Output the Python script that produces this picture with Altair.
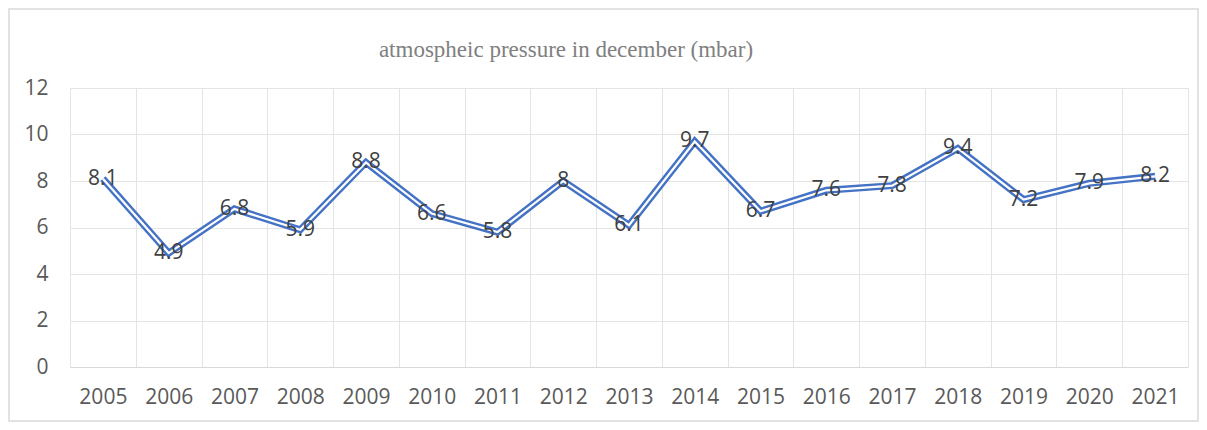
import altair as alt
import pandas as pd

years = [str(y) for y in range(2005, 2022)]
values = [8.1, 4.9, 6.8, 5.9, 8.8, 6.6, 5.8, 8, 6.1, 9.7, 6.7, 7.6, 7.8, 9.4, 7.2, 7.9, 8.2]
labels = ["8.1", "4.9", "6.8", "5.9", "8.8", "6.6", "5.8", "8", "6.1", "9.7",
          "6.7", "7.6", "7.8", "9.4", "7.2", "7.9", "8.2"]
y_ticks = [0, 2, 4, 6, 8, 10, 12]
title_text = "atmospheic pressure in december (mbar)"

df = pd.DataFrame({"year": years, "value": values, "label": labels})

FONT = "Open Sans"
W, H = 1118, 279
PL, PT, PR, PB = 62, 80, 11, 55

x = alt.X(
    "year:N", sort=years, title=None,
    scale=alt.Scale(paddingInner=0, paddingOuter=0),
    axis=alt.Axis(labelAngle=0, grid=True, tickBand="extent", gridColor="#e4e4e4",
                  domainColor="#d9d9d9", ticks=False, labelFontSize=21,
                  labelColor="#595959", labelFont=FONT, labelPadding=19),
)
y = alt.Y(
    "value:Q", title=None, scale=alt.Scale(domain=[0, 12]),
    axis=alt.Axis(values=y_ticks, domain=False, ticks=False, gridColor="#e4e4e4",
                  labelFontSize=21, labelColor="#595959", labelFont=FONT, labelPadding=22),
)

base = alt.Chart(df).encode(x=x, y=y)
outer = base.mark_line(color="#4472c4", strokeWidth=7, strokeJoin="miter")
inner = base.mark_line(color="white", strokeWidth=2.2, strokeJoin="miter")
text = base.mark_text(fontSize=21, font=FONT, color="#404040", baseline="middle",
                      align="center").encode(text="label:N")

single = alt.Chart(pd.DataFrame({"t": [title_text]}))
title = single.mark_text(font="Liberation Serif", fontSize=23, color="#808080",
                         align="center", baseline="alphabetic").encode(
    text="t:N", x=alt.value(496), y=alt.value(-31)
)
border = single.mark_rect(fill=None, stroke="#d9d9d9", strokeWidth=1.5).encode(
    x=alt.value(-PL + 1), x2=alt.value(W + PR - 1),
    y=alt.value(-PT + 1), y2=alt.value(H + PB - 1),
)

chart = alt.layer(outer, inner, text, title, border).properties(
    width=W, height=H,
    autosize=alt.AutoSizeParams(type="none"),
    padding={"left": PL, "top": PT, "right": PR, "bottom": PB},
).configure_view(stroke=None)

chart.save("out.html", embed_options={"renderer": "svg", "actions": False})
